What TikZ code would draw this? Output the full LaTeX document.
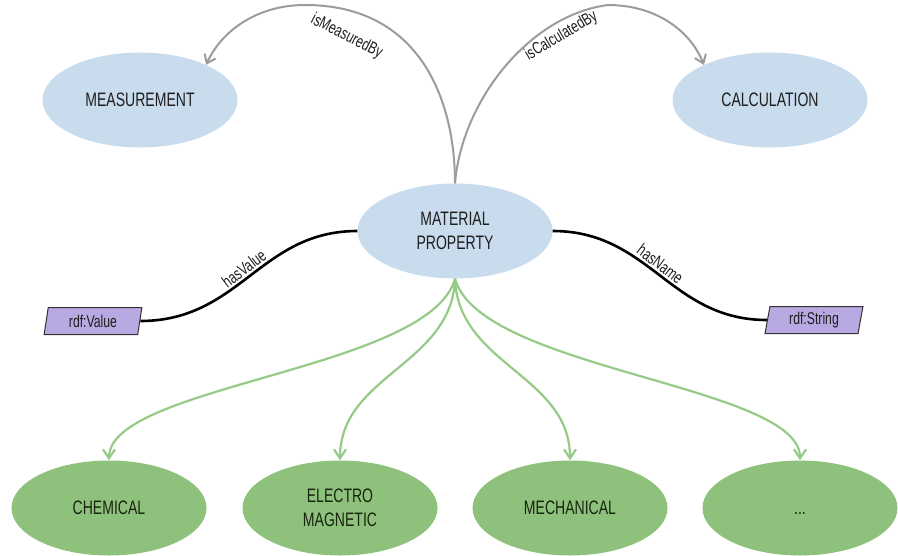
\documentclass[tikz,border=0pt]{standalone}
\usepackage{fontspec}
\setmainfont{Liberation Sans}[FakeStretch=0.72]
\usetikzlibrary{shapes.geometric,arrows.meta}
\definecolor{pblue}{HTML}{C8DCEE}
\definecolor{pgreen}{HTML}{8EC27C}
\definecolor{lgreen}{HTML}{96CB87}
\definecolor{lav}{HTML}{B9A9E3}
\definecolor{arrgray}{HTML}{9C9C9C}
\definecolor{txt}{HTML}{1E1E1E}
\definecolor{gtxt}{HTML}{18240F}
\begin{document}
\begin{tikzpicture}[x=1pt,y=-1pt,
  blueell/.style={ellipse, fill=pblue, minimum width=195pt, minimum height=95pt, inner sep=0pt, align=center, font=\fontsize{19.5}{24}\selectfont, text=txt},
  greenell/.style={blueell, fill=pgreen, text=gtxt},
  rdfbox/.style={trapezium, trapezium left angle=80, trapezium right angle=100, trapezium stretches=true, draw=black!80, line width=1pt, fill=lav, minimum width=98pt, minimum height=27pt, inner sep=0pt, font=\fontsize{17}{20}\selectfont, text=txt},
  grayarrow/.style={draw=arrgray, line width=2pt, -{Straight Barb[length=8pt,width=12pt]}},
  blackline/.style={draw=black, line width=2.6pt},
  greenarrow/.style={draw=lgreen, line width=2.2pt, -{Straight Barb[length=9pt,width=12pt]}},
  lblfont/.style={font=\fontsize{17}{20}\selectfont, text=txt, inner sep=1pt},
  lbl/.style={lblfont, sloped}
]
\useasboundingbox (0,0) rectangle (898,555);
\fill[white] (0,0) rectangle (898,555);

\node[blueell] (mea) at (140,100) {MEASUREMENT};
\node[blueell] (cal) at (770,100) {CALCULATION};
\node[blueell] (mp) at (455,231) {MATERIAL\\PROPERTY};
\node[rdfbox] (val) at (93,321) {rdf:Value};
\node[rdfbox] (str) at (814,320) {rdf:String};
\node[greenell] (chem) at (109,508) {CHEMICAL};
\node[greenell] (elec) at (340,508) {ELECTRO\\MAGNETIC};
\node[greenell] (mech) at (570,508) {MECHANICAL};
\node[greenell] (dots) at (800,508) {\vphantom{C}...};

\draw[grayarrow] (mp.north) .. controls (455,100) and (420,5) .. (305,5)
  node[lblfont, pos=0.8, xshift=-18pt, yshift=-21pt, rotate=-27] {isMeasuredBy}
  .. controls (258,5) and (222,30) .. (mea.28);
\draw[grayarrow] (mp.north) .. controls (462,100) and (530,15) .. (608,5)
  node[lbl, pos=0.76, below=4pt] {isCalculatedBy}
  .. controls (655,5) and (690,30) .. (cal.152);

\draw[blackline] (mp.west) .. controls (260,231) and (240,321) .. (val.east)
  node[lbl, pos=0.5, above=1pt] {hasValue};
\draw[blackline] (mp.east) .. controls (650,231) and (670,320) .. (str.west)
  node[lbl, pos=0.47, above=1pt] {hasName};

\draw[greenarrow] (mp.south) .. controls (430,370) and (109,385) .. (chem.north);
\draw[greenarrow] (mp.south) .. controls (452,365) and (340,375) .. (elec.north);
\draw[greenarrow] (mp.south) .. controls (458,365) and (570,375) .. (mech.north);
\draw[greenarrow] (mp.south) .. controls (480,370) and (800,385) .. (dots.north);
\end{tikzpicture}
\end{document}
